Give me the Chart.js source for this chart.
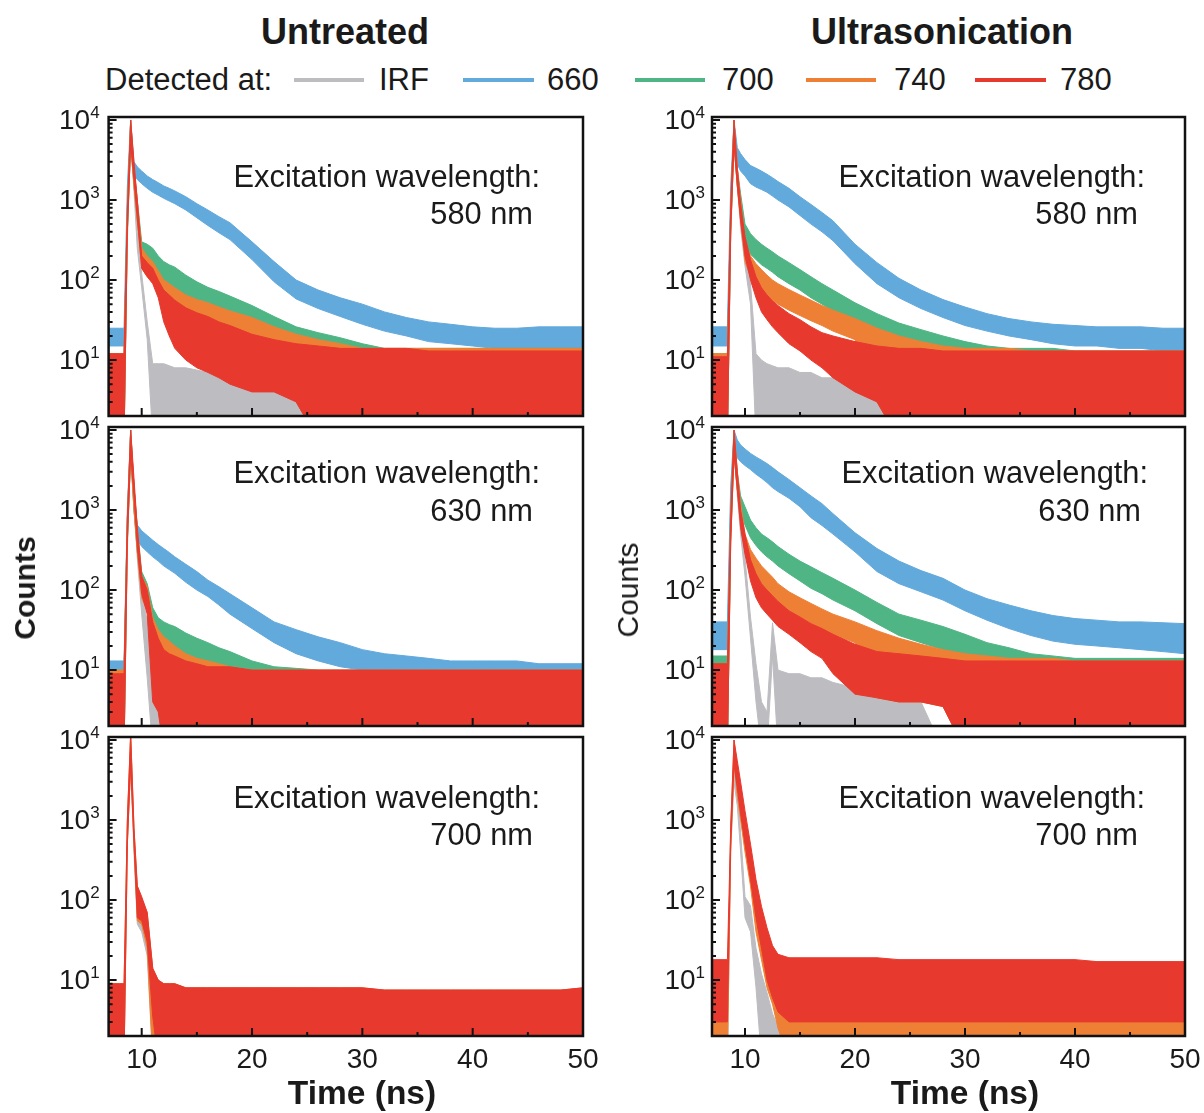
<!DOCTYPE html>
<html>
<head>
<meta charset="utf-8">
<script src="https://cdn.jsdelivr.net/npm/chart.js@4.4.1/dist/chart.umd.min.js"></script>
<style>
  body { margin: 0; background: #fff; width: 1204px; height: 1113px; position: relative; overflow: hidden;
         font-family: "Liberation Sans", Arial, sans-serif; color: #1a1a1a; }
  .t { position: absolute; white-space: nowrap; line-height: 1; }
  .b { font-weight: bold; }
  .r { text-align: right; }
  .key { position: absolute; height: 4px; top: 78px; }
  canvas { position: absolute; }
</style>
</head>
<body>

<div class="t b" style="left:345px;top:14px;font-size:36px;transform:translateX(-50%)">Untreated</div>
<div class="t b" style="left:942px;top:14px;font-size:36px;transform:translateX(-50%)">Ultrasonication</div>

<div class="t" style="left:105px;top:64px;font-size:31px">Detected at:</div>
<div class="key" style="left:294px;width:70px;background:#bdbcc0"></div>
<div class="t" style="left:379px;top:64px;font-size:31px">IRF</div>
<div class="key" style="left:463px;width:71px;background:#62a9dc"></div>
<div class="t" style="left:547px;top:64px;font-size:31px">660</div>
<div class="key" style="left:635px;width:70px;background:#4fb584"></div>
<div class="t" style="left:722px;top:64px;font-size:31px">700</div>
<div class="key" style="left:806px;width:70px;background:#ee8036"></div>
<div class="t" style="left:894px;top:64px;font-size:31px">740</div>
<div class="key" style="left:975px;width:71px;background:#e8392e"></div>
<div class="t" style="left:1060px;top:64px;font-size:31px">780</div>

<canvas id="u580" width="600" height="327" style="left:0;top:95px"></canvas>
<canvas id="s580" width="604" height="327" style="left:600px;top:95px"></canvas>
<canvas id="u630" width="600" height="327" style="left:0;top:405px"></canvas>
<canvas id="s630" width="604" height="327" style="left:600px;top:405px"></canvas>
<canvas id="u700" width="600" height="369" style="left:0;top:715px"></canvas>
<canvas id="s700" width="604" height="369" style="left:600px;top:715px"></canvas>

<div class="t r" style="right:664px;top:162px;font-size:30.8px">Excitation wavelength:</div>
<div class="t r" style="right:671px;top:199px;font-size:30.8px">580 nm</div>
<div class="t r" style="right:59px;top:162px;font-size:30.8px">Excitation wavelength:</div>
<div class="t r" style="right:66px;top:199px;font-size:30.8px">580 nm</div>

<div class="t r" style="right:664px;top:458px;font-size:30.8px">Excitation wavelength:</div>
<div class="t r" style="right:671px;top:496px;font-size:30.8px">630 nm</div>
<div class="t r" style="right:56px;top:458px;font-size:30.8px">Excitation wavelength:</div>
<div class="t r" style="right:63px;top:496px;font-size:30.8px">630 nm</div>

<div class="t r" style="right:664px;top:783px;font-size:30.8px">Excitation wavelength:</div>
<div class="t r" style="right:671px;top:820px;font-size:30.8px">700 nm</div>
<div class="t r" style="right:59px;top:783px;font-size:30.8px">Excitation wavelength:</div>
<div class="t r" style="right:66px;top:820px;font-size:30.8px">700 nm</div>

<div class="t b" style="left:25px;top:588px;font-size:30px;transform:translate(-50%,-50%) rotate(-90deg)">Counts</div>
<div class="t" style="left:628px;top:590px;font-size:30px;transform:translate(-50%,-50%) rotate(-90deg)">Counts</div>

<div class="t b" style="left:362px;top:1076px;font-size:33.5px;transform:translateX(-50%)">Time (ns)</div>
<div class="t b" style="left:965px;top:1076px;font-size:33.5px;transform:translateX(-50%)">Time (ns)</div>

<script>
// time grid (ns) shared by every trace
var time = [7, 8, 8.4, 8.7, 9, 9.3, 9.6, 10, 10.5, 11, 11.5, 12, 12.5, 13, 14, 15, 16, 17, 18,
            20, 22, 24, 26, 28, 30, 32, 34, 36, 38, 40, 42, 44, 46, 48, 50];
var detectedAt = ['IRF', '660', '700', '740', '780'];
var yTicks = [10, 100, 1000, 10000];
var xTicks = [10, 20, 30, 40, 50];

// each trace is a noisy band: upper (hi) and lower (lo) edge of the counts
// Untreated, excitation 580 nm
var u580_irf_hi = [1,1,1,500,10000,2000,400,120,30,9,9,9,8.5,8,8,7.5,7,6,5.5,5,4.5,4,3,1,1,1,1,1,1,1,1,1,1,1,1];
var u580_irf_lo = [1,1,1,300,6000,1300,250,80,18,1,1,1,1,1,1,1,1,1,1,1,1,1,1,1,1,1,1,1,1,1,1,1,1,1,1];
var u580_660_hi = [25,25,25,1500,10000,3000,2600,2300,2000,1800,1650,1500,1400,1300,1100,900,750,620,520,300,170,100,75,60,50,40,34,30,28,26,25,25,26,26,26];
var u580_660_lo = [15,15,15,800,6000,2000,1800,1600,1400,1250,1150,1050,970,900,750,600,480,390,320,180,95,58,44,35,28,23,20,17,16,15,14,14,13,13,12];
var u580_700_hi = [12,12,12,800,10000,2500,1000,300,280,250,200,170,155,145,115,95,81,72,63,48,35,26,22,19,16,14,14,14,14,14,14,14,14,14,14];
var u580_700_lo = [1,1,1,400,5000,1500,550,170,150,130,110,95,85,80,62,52,45,40,35,20,15,3,1,1,1,1,1,1,1,1,1,1,1,1,1];
var u580_740_hi = [12,12,12,800,10000,2500,1000,250,200,170,130,100,90,80,65,57,52,46,41,34,26,21,18,16,14,14,14,14,14,14,14,14,14,14,14];
var u580_740_lo = [1,1,1,400,5000,1500,550,140,110,95,70,55,50,45,36,31,28,25,22,15,12,3,1,1,1,1,1,1,1,1,1,1,1,1,1];
var u580_780_hi = [12,12,12,700,10000,3000,1000,200,165,140,100,75,65,56,45,39,35,30,27,21,18,16,15,14,14,14,14,13,13,13,13,13,13,13,13];
var u580_780_lo = [1,1,1,400,5000,1800,600,140,110,90,60,30,20,14,10,8,7,6,5,4,4,3,1,1,1,1,1,1,1,1,1,1,1,1,1];

// Ultrasonication, excitation 580 nm
var s580_irf_hi = [1,1,1,500,10000,2500,700,250,90,12,10,9,8.5,8,8,7,7,6,6,5,3,1,1,1,1,1,1,1,1,1,1,1,1,1,1];
var s580_irf_lo = [1,1,1,300,6000,1500,450,150,50,1,1,1,1,1,1,1,1,1,1,1,1,1,1,1,1,1,1,1,1,1,1,1,1,1,1];
var s580_660_hi = [26,26,26,1500,10000,4500,3800,3200,2700,2500,2300,2100,1900,1700,1400,1100,880,700,550,280,165,105,75,57,46,38,33,30,28,27,26,26,26,25,25];
var s580_660_lo = [15,15,15,800,6000,2800,2300,2000,1600,1450,1350,1250,1120,1000,820,640,500,400,310,160,90,60,44,34,27,23,20,18,16,15,15,14,14,13,13];
var s580_700_hi = [12,12,12,800,10000,2500,1200,500,380,320,280,250,225,200,165,135,110,90,75,52,38,29,24,20,17,15,14,14,14,13,13,13,13,13,13];
var s580_700_lo = [1,1,1,400,5000,1500,650,280,210,180,155,140,125,110,90,75,60,50,41,29,21,1,1,1,1,1,1,1,1,1,1,1,1,1,1];
var s580_740_hi = [12,12,12,800,10000,2500,1000,300,200,160,135,115,100,90,76,65,56,48,42,33,25,20,17,15,14,14,14,13,13,13,13,13,13,13,13];
var s580_740_lo = [1,1,1,400,5000,1500,550,170,110,90,75,65,56,50,42,36,31,27,23,18,3,1,1,1,1,1,1,1,1,1,1,1,1,1,1];
var s580_780_hi = [11,11,11,800,10000,2500,900,350,180,110,80,65,55,48,38,32,26,22,20,17,15,14,14,13,13,13,13,13,13,13,13,13,13,13,13];
var s580_780_lo = [1,1,1,400,5000,1500,550,200,100,60,40,32,26,22,16,13,10,8,6,4,3,1,1,1,1,1,1,1,1,1,1,1,1,1,1];

// Untreated, excitation 630 nm
var u630_irf_hi = [1,1,1,500,10000,2000,400,100,40,8,5,3,1,1,1,1,1,1,1,1,1,1,1,1,1,1,1,1,1,1,1,1,1,1,1];
var u630_irf_lo = [1,1,1,300,6000,1200,250,50,8,1,1,1,1,1,1,1,1,1,1,1,1,1,1,1,1,1,1,1,1,1,1,1,1,1,1];
var u630_660_hi = [13,13,13,1000,10000,1500,650,550,480,420,370,330,295,260,210,170,133,110,90,60,40,32,26,22,18,16,15,14,13,13,13,13,12,12,12];
var u630_660_lo = [9,9,9,600,6000,1000,420,350,300,260,230,200,180,162,125,100,83,65,50,33,22,16,13,11,10,9,9,9,9,8,8,8,8,8,8];
var u630_700_hi = [10,10,10,800,10000,2000,600,170,120,60,45,40,37,35,29,25,22,19,17,13,11,10.5,10,10,10,10,10,10,10,10,10,10,10,10,10];
var u630_700_lo = [1,1,1,400,5000,1000,300,100,60,30,22,20,18,17,14,12,11,10,9,1,1,1,1,1,1,1,1,1,1,1,1,1,1,1,1];
var u630_740_hi = [10,10,10,800,10000,2000,600,150,110,45,32,26,23,20,16,14,13,12,11,10,10,10,10,10,10,10,10,10,10,10,10,10,10,10,10];
var u630_740_lo = [1,1,1,400,5000,1000,300,80,55,22,16,13,12,10,8,7,6,5,5,1,1,1,1,1,1,1,1,1,1,1,1,1,1,1,1];
var u630_780_hi = [9,9,9,800,10000,2500,600,150,100,40,25,18,16,15,13,12,11,11,11,10,10,10,10,10,10,10,10,10,10,10,10,10,10,10,10];
var u630_780_lo = [1,1,1,400,5000,1500,350,90,50,4,3,1,1,1,1,1,1,1,1,1,1,1,1,1,1,1,1,1,1,1,1,1,1,1,1];

// Ultrasonication, excitation 630 nm
var s630_irf_hi = [1,1,1,600,10000,2500,800,250,46,12,4,3,39,10,9,9,8,8,7,6,5,4,4,1,1,1,1,1,1,1,1,1,1,1,1];
var s630_irf_lo = [1,1,1,350,6000,1500,500,150,25,4,1,1,15,1,1,1,1,1,1,1,1,1,1,1,1,1,1,1,1,1,1,1,1,1,1];
var s630_660_hi = [40,40,40,2000,10000,7500,6500,5800,5100,4600,4200,3800,3400,3000,2400,1900,1500,1200,900,520,330,230,175,140,100,78,65,55,48,44,42,40,40,39,38];
var s630_660_lo = [18,18,18,1200,6000,4500,4000,3600,3200,2800,2500,2200,1900,1700,1400,1100,800,640,500,300,170,120,95,75,55,42,33,27,23,21,20,19,18,17,16];
var s630_700_hi = [15,15,15,1000,10000,3000,1500,1100,750,600,500,450,400,350,280,230,195,165,140,100,70,50,42,35,28,22,19,16,15,14,14,14,14,14,14];
var s630_700_lo = [1,1,1,500,5000,1800,900,650,450,360,300,260,230,200,160,130,105,90,75,55,38,27,22,18,1,1,1,1,1,1,1,1,1,1,1];
var s630_740_hi = [12,12,12,800,10000,3000,1200,500,320,250,200,170,145,120,95,80,68,58,50,40,31,25,21,18,16,15,14,14,14,13,13,13,13,13,13];
var s630_740_lo = [1,1,1,400,5000,1800,700,300,200,150,120,100,85,70,55,45,38,32,28,22,4.5,4,4,3.5,1,1,1,1,1,1,1,1,1,1,1];
var s630_780_hi = [12,12,12,800,10000,3000,1000,500,240,160,120,100,85,72,55,46,38,33,28,21,17,16,15,14,13,13,13,13,13,13,13,13,13,13,13];
var s630_780_lo = [1,1,1,400,5000,1800,600,280,130,80,60,50,42,35,28,22,17,14,9,5,4.5,4,4,3.5,1,1,1,1,1,1,1,1,1,1,1];

// Untreated, excitation 700 nm
var u700_irf_hi = [1,1,1,900,11000,700,140,90,60,14,9,8,8,8,7.5,7.5,7.5,7.5,7.5,7.5,7.5,7.5,7.5,7.5,7.5,7.5,7.5,7.5,7.5,7.5,7.5,7.5,7.5,7.5,7.5];
var u700_irf_lo = [1,1,1,500,5000,400,50,40,20,1,1,1,1,1,1,1,1,1,1,1,1,1,1,1,1,1,1,1,1,1,1,1,1,1,1];
var u700_740_hi = [9,9,9,1000,12000,800,150,105,70,14,10,9,9,9,8,8,8,8,8,8,8,8,8,8,8,7.5,7.5,7.5,7.5,7.5,7.5,7.5,7.5,7.5,8];
var u700_740_lo = [1,1,1,500,5000,500,55,50,25,1,1,1,1,1,1,1,1,1,1,1,1,1,1,1,1,1,1,1,1,1,1,1,1,1,1];
var u700_780_hi = [9,9,9,1000,12000,800,150,110,70,14,10,9,9,9,8,8,8,8,8,8,8,8,8,8,8,7.5,7.5,7.5,7.5,7.5,7.5,7.5,7.5,7.5,8];
var u700_780_lo = [1,1,1,500,5000,500,60,55,30,3.5,1,1,1,1,1,1,1,1,1,1,1,1,1,1,1,1,1,1,1,1,1,1,1,1,1];

// Ultrasonication, excitation 700 nm
var s700_irf_hi = [1,1,1,800,6000,2600,700,110,85,25,12,7,3.8,2.6,1,1,1,1,1,1,1,1,1,1,1,1,1,1,1,1,1,1,1,1,1];
var s700_irf_lo = [1,1,1,400,3000,1500,400,60,40,8,1,1,1,1,1,1,1,1,1,1,1,1,1,1,1,1,1,1,1,1,1,1,1,1,1];
var s700_740_hi = [4,4,4,800,10000,4500,2500,1000,420,150,60,25,12,6,4.5,4.5,4.5,4.5,4.5,4.5,4.5,4.5,4.5,4.5,4.5,4.5,4.5,4.5,4.5,4.5,4.5,4.5,4.5,4.5,4.5];
var s700_740_lo = [1,1,1,400,5000,2000,1000,400,150,40,18,8,5,2.5,1,1,1,1,1,1,1,1,1,1,1,1,1,1,1,1,1,1,1,1,1];
var s700_780_hi = [18,18,18,800,10000,5500,3000,1300,500,180,83,45,27,21,19,19,19,19,19,19,19,18,18,18,18,18,18,18,18,18,17,17,17,17,17];
var s700_780_lo = [3,3,3,500,5000,2500,1200,500,180,60,25,10,6,4,3,3,3,3,3,3,3,3,3,3,3,3,3,3,3,3,3,3,3,3,3];

var colors = { IRF: '#bdbcc0', '660': '#62a9dc', '700': '#4fb584', '740': '#ee8036', '780': '#e8392e' };

var cols = [ { left: 108.6, right: 583, cx: 0, cw: 600 }, { left: 712, right: 1185, cx: 600, cw: 604 } ];
var rows = [ { top: 117, bottom: 416 }, { top: 427, bottom: 726 }, { top: 737, bottom: 1036 } ];

function pts(arr) {
  return arr.map(function (v, i) { return { x: time[i], y: v }; });
}

// frame, inward ticks and tick labels drawn from the chart's own scales
var framePlugin = {
  id: 'frame',
  afterDatasetsDraw: function (chart, args, opts) {
    var ctx = chart.ctx, a = chart.chartArea, x = chart.scales.x, y = chart.scales.y;
    ctx.save();
    ctx.strokeStyle = '#111';
    ctx.lineWidth = 2;
    ctx.beginPath();
    for (var d = 1; d <= 10000; d *= 10) {
      for (var m = 1; m < 10; m++) {
        var v = d * m;
        if (v < y.min || v > y.max) continue;
        var py = y.getPixelForValue(v);
        ctx.moveTo(a.left, py);
        ctx.lineTo(a.left + (m === 1 ? 8 : 4), py);
      }
    }
    for (var t = 10; t <= 50; t += 5) {
      var px = x.getPixelForValue(t);
      ctx.moveTo(px, a.bottom);
      ctx.lineTo(px, a.bottom - (t % 10 === 0 ? 8 : 4));
    }
    ctx.stroke();
    ctx.lineWidth = 2.5;
    ctx.strokeRect(a.left, a.top, a.right - a.left, a.bottom - a.top);

    ctx.fillStyle = '#1a1a1a';
    ctx.textBaseline = 'alphabetic';
    yTicks.forEach(function (v) {
      var py = y.getPixelForValue(v);
      var exp = String(Math.round(Math.log10(v)));
      ctx.font = '17px "Liberation Sans", Arial, sans-serif';
      var ew = ctx.measureText(exp).width;
      var xr = a.left - opts.gap;
      ctx.textAlign = 'left';
      ctx.fillText(exp, xr - ew, py - 2);
      ctx.font = '28px "Liberation Sans", Arial, sans-serif';
      ctx.textAlign = 'right';
      ctx.fillText('10', xr - ew, py + 9);
    });
    if (opts.xLabels) {
      ctx.font = '28px "Liberation Sans", Arial, sans-serif';
      ctx.textAlign = 'center';
      xTicks.forEach(function (t) {
        ctx.fillText(String(t), x.getPixelForValue(t), a.bottom + 32);
      });
    }
    ctx.restore();
  }
};

function mountPanel(id, col, row, series) {
  var c = cols[col], r = rows[row];
  var last = row === 2;
  var datasets = [];
  // red first so it is drawn on top, IRF last (behind)
  for (var i = series.length - 1; i >= 0; i--) {
    var s = series[i];
    var color = colors[s.name];
    datasets.push({ data: pts(s.hi), borderColor: color, backgroundColor: color,
                    borderWidth: 1, fill: '+1', pointRadius: 0 });
    datasets.push({ data: pts(s.lo), borderColor: color, borderWidth: 1,
                    fill: false, pointRadius: 0 });
  }
  new Chart(document.getElementById(id), {
    type: 'line',
    data: { datasets: datasets },
    options: {
      responsive: false,
      animation: false,
      events: [],
      layout: { padding: { left: c.left - c.cx, right: c.cx + c.cw - c.right, top: 22, bottom: last ? 48 : 6 } },
      elements: { line: { tension: 0 }, point: { radius: 0 } },
      scales: {
        x: { type: 'linear', min: 7, max: 50, display: false },
        y: { type: 'logarithmic', min: 2, max: 10900, display: false }
      },
      plugins: {
        legend: { display: false },
        tooltip: { enabled: false },
        frame: { gap: col === 0 ? 9 : 7, xLabels: last }
      }
    },
    plugins: [framePlugin]
  });
}

mountPanel('u580', 0, 0, [
  { name: 'IRF', hi: u580_irf_hi, lo: u580_irf_lo },
  { name: '660', hi: u580_660_hi, lo: u580_660_lo },
  { name: '700', hi: u580_700_hi, lo: u580_700_lo },
  { name: '740', hi: u580_740_hi, lo: u580_740_lo },
  { name: '780', hi: u580_780_hi, lo: u580_780_lo }
]);
mountPanel('s580', 1, 0, [
  { name: 'IRF', hi: s580_irf_hi, lo: s580_irf_lo },
  { name: '660', hi: s580_660_hi, lo: s580_660_lo },
  { name: '700', hi: s580_700_hi, lo: s580_700_lo },
  { name: '740', hi: s580_740_hi, lo: s580_740_lo },
  { name: '780', hi: s580_780_hi, lo: s580_780_lo }
]);
mountPanel('u630', 0, 1, [
  { name: 'IRF', hi: u630_irf_hi, lo: u630_irf_lo },
  { name: '660', hi: u630_660_hi, lo: u630_660_lo },
  { name: '700', hi: u630_700_hi, lo: u630_700_lo },
  { name: '740', hi: u630_740_hi, lo: u630_740_lo },
  { name: '780', hi: u630_780_hi, lo: u630_780_lo }
]);
mountPanel('s630', 1, 1, [
  { name: 'IRF', hi: s630_irf_hi, lo: s630_irf_lo },
  { name: '660', hi: s630_660_hi, lo: s630_660_lo },
  { name: '700', hi: s630_700_hi, lo: s630_700_lo },
  { name: '740', hi: s630_740_hi, lo: s630_740_lo },
  { name: '780', hi: s630_780_hi, lo: s630_780_lo }
]);
mountPanel('u700', 0, 2, [
  { name: 'IRF', hi: u700_irf_hi, lo: u700_irf_lo },
  { name: '740', hi: u700_740_hi, lo: u700_740_lo },
  { name: '780', hi: u700_780_hi, lo: u700_780_lo }
]);
mountPanel('s700', 1, 2, [
  { name: 'IRF', hi: s700_irf_hi, lo: s700_irf_lo },
  { name: '740', hi: s700_740_hi, lo: s700_740_lo },
  { name: '780', hi: s700_780_hi, lo: s700_780_lo }
]);
</script>
</body>
</html>
